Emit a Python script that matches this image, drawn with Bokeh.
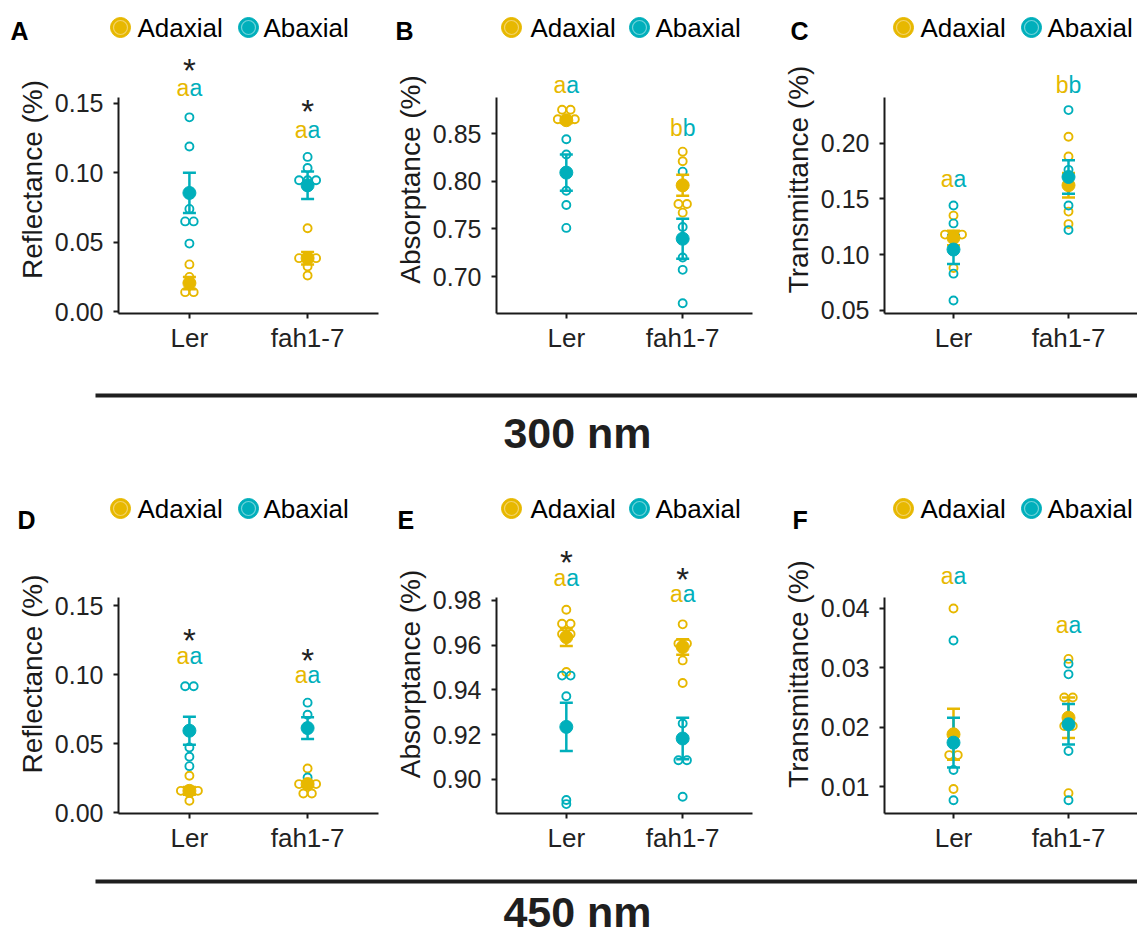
from bokeh.plotting import figure
from bokeh.layouts import column, row
from bokeh.models import Range1d, FixedTicker, NumeralTickFormatter
from bokeh.embed import file_html
from bokeh.resources import INLINE
from bokeh.core.properties import value

# ---------------------------------------------------------------- data
categories = ["Ler", "fah1-7"]
sides = ["Adaxial", "Abaxial"]

# (A) Reflectance, 300 nm
refl300_ad_Ler = [0.034, 0.025, 0.014, 0.014]
refl300_ad_fah = [0.060, 0.0385, 0.0385, 0.0385, 0.0325, 0.026]
refl300_ab_Ler = [0.140, 0.119, 0.074, 0.065, 0.065, 0.049]
refl300_ab_fah = [0.1115, 0.1035, 0.0946, 0.0946, 0.0946]
refl300_ad_mean = [0.0205, 0.0385]
refl300_ad_se = [0.0045, 0.0045]
refl300_ab_mean = [0.0855, 0.091]
refl300_ab_se = [0.0145, 0.0099]
refl300_letters = [("a", "a"), ("a", "a")]
refl300_letter_y = [0.1608, 0.1312]
refl300_star_y = [0.1789, 0.1495]
refl300_ticks = [0.00, 0.05, 0.10, 0.15]
refl300_limits = (-0.0014, 0.1543)

# (B) Absorptance, 300 nm
abs300_ad_Ler = [0.875, 0.875, 0.865, 0.865, 0.865]
abs300_ad_fah = [0.831, 0.821, 0.776, 0.776, 0.767]
abs300_ab_Ler = [0.844, 0.828, 0.790, 0.775, 0.751]
abs300_ab_fah = [0.810, 0.752, 0.720, 0.707, 0.672]
abs300_ad_mean = [0.864, 0.7957]
abs300_ad_se = [0.003, 0.011]
abs300_ab_mean = [0.809, 0.7396]
abs300_ab_se = [0.019, 0.021]
abs300_letters = [("a", "a"), ("b", "b")]
abs300_letter_y = [0.9008, 0.856]
abs300_star_y = [None, None]
abs300_ticks = [0.70, 0.75, 0.80, 0.85]
abs300_limits = (0.6612, 0.8878)

# (C) Transmittance, 300 nm
tra300_ad_Ler = [0.135, 0.118, 0.118, 0.118, 0.088]
tra300_ad_fah = [0.2056, 0.188, 0.1386, 0.1274]
tra300_ab_Ler = [0.144, 0.128, 0.083, 0.059]
tra300_ab_fah = [0.2295, 0.176, 0.144, 0.122]
tra300_ad_mean = [0.1150, 0.1622]
tra300_ad_se = [0.0065, 0.011]
tra300_ab_mean = [0.1046, 0.1696]
tra300_ab_se = [0.013, 0.015]
tra300_letters = [("a", "a"), ("b", "b")]
tra300_letter_y = [0.1681, 0.2522]
tra300_star_y = [None, None]
tra300_ticks = [0.05, 0.10, 0.15, 0.20]
tra300_limits = (0.0473, 0.2408)

# (D) Reflectance, 450 nm
refl450_ad_Ler = [0.0266, 0.0157, 0.0157, 0.0157, 0.0085]
refl450_ad_fah = [0.0319, 0.0206, 0.0206, 0.0206, 0.0138, 0.0138]
refl450_ab_Ler = [0.0915, 0.0915, 0.0472, 0.0404, 0.0336]
refl450_ab_fah = [0.0796, 0.0709, 0.0254]
refl450_ad_mean = [0.0157, 0.0206]
refl450_ad_se = [0.0028, 0.002]
refl450_ab_mean = [0.0593, 0.0612]
refl450_ab_se = [0.0101, 0.0079]
refl450_letters = [("a", "a"), ("a", "a")]
refl450_letter_y = [0.1137, 0.0997]
refl450_star_y = [0.1294, 0.1149]
refl450_ticks = [0.00, 0.05, 0.10, 0.15]
refl450_limits = (-0.0007, 0.1558)

# (E) Absorptance, 450 nm
abs450_ad_Ler = [0.9758, 0.9696, 0.9696, 0.9650, 0.9650, 0.948]
abs450_ad_fah = [0.9693, 0.9607, 0.9607, 0.9532, 0.9431]
abs450_ab_Ler = [0.9464, 0.9464, 0.9372, 0.8908, 0.889]
abs450_ab_fah = [0.925, 0.9086, 0.9086, 0.8923]
abs450_ad_mean = [0.9636, 0.9592]
abs450_ad_se = [0.004, 0.0035]
abs450_ab_mean = [0.9235, 0.9183]
abs450_ab_se = [0.0108, 0.0093]
abs450_letters = [("a", "a"), ("a", "a")]
abs450_letter_y = [0.9901, 0.983]
abs450_star_y = [1.0001, 0.9926]
abs450_ticks = [0.90, 0.92, 0.94, 0.96, 0.98]
abs450_limits = (0.8848, 0.9813)

# (F) Transmittance, 450 nm
tra450_ad_Ler = [0.040, 0.0153, 0.0153, 0.0096]
tra450_ad_fah = [0.0315, 0.025, 0.025, 0.0202, 0.0202, 0.0089]
tra450_ab_Ler = [0.0346, 0.0128, 0.0077]
tra450_ab_fah = [0.0307, 0.0289, 0.016, 0.0077]
tra450_ad_mean = [0.0188, 0.0216]
tra450_ad_se = [0.0043, 0.0034]
tra450_ab_mean = [0.0174, 0.0205]
tra450_ab_se = [0.0042, 0.0034]
tra450_letters = [("a", "a"), ("a", "a")]
tra450_letter_y = [0.0454, 0.0372]
tra450_star_y = [None, None]
tra450_ticks = [0.01, 0.02, 0.03, 0.04]
tra450_limits = (0.00547, 0.04184)

band_titles = ["300 nm", "450 nm"]

# ---------------------------------------------------------------- style
YEL = "#E7B800"
TEAL = "#00AFBB"
YEL_RING = "#F3D36A"
TEAL_RING = "#6FD3DA"
INK = "#1a1a1a"
FONT = "Liberation Sans"

TOTAL_W = 1137
COL_W = [380, 377, 380]
LEFT = [118, 116, 127]
RIGHT = [2, 5, 0]
ROWS = [
    dict(header_h=45, panel_h=315, bottom=47, axis_top_px=52,
         leg_y=27, letter_y=30, letter_x=[10, 395, 790]),
    dict(header_h=56, panel_h=322, bottom=43, axis_top_px=63,
         leg_y=30, letter_y=41, letter_x=[17, 397, 792]),
]
LEGEND_X = [(120, 137, 248, 263), (511, 530, 639, 655), (903, 920, 1031, 1047)]


def spec(prefix, label, letter):
    g = globals()
    return dict(
        label=label, letter=letter,
        ad=[g[prefix + "_ad_Ler"], g[prefix + "_ad_fah"]],
        ab=[g[prefix + "_ab_Ler"], g[prefix + "_ab_fah"]],
        ad_mean=g[prefix + "_ad_mean"], ad_se=g[prefix + "_ad_se"],
        ab_mean=g[prefix + "_ab_mean"], ab_se=g[prefix + "_ab_se"],
        letters=g[prefix + "_letters"], letter_y=g[prefix + "_letter_y"],
        star_y=g[prefix + "_star_y"], ticks=g[prefix + "_ticks"],
        limits=g[prefix + "_limits"])


PANELS = [
    [spec("refl300", "Reflectance (%)", "A"), spec("abs300", "Absorptance (%)", "B"),
     spec("tra300", "Transmittance (%)", "C")],
    [spec("refl450", "Reflectance (%)", "D"), spec("abs450", "Absorptance (%)", "E"),
     spec("tra450", "Transmittance (%)", "F")],
]


def dot_stack(vals, thresh):
    """dotplot-like centred stacking of nearly equal values"""
    n = len(vals)
    order = sorted(range(n), key=lambda i: vals[i])
    offs = [0.0] * n
    ys = [0.0] * n
    i = 0
    while i < n:
        j = i
        while j + 1 < n and vals[order[j + 1]] - vals[order[i]] <= thresh:
            j += 1
        grp = order[i:j + 1]
        c = (vals[order[i]] + vals[order[j]]) / 2
        m = len(grp)
        for k, idx in enumerate(grp):
            offs[idx] = k - (m - 1) / 2
            ys[idx] = c
        i = j + 1
    return offs, ys


def blank_fig(w, h):
    p = figure(width=w, height=h, x_range=Range1d(0, w), y_range=Range1d(h, 0),
               x_axis_type=None, y_axis_type=None, output_backend="svg",
               toolbar_location=None, min_border=0, min_border_left=0,
               min_border_right=0, min_border_top=0, min_border_bottom=0)
    p.grid.visible = False
    p.outline_line_color = None
    p.background_fill_color = "white"
    p.border_fill_color = "white"
    return p


def header_fig(ri):
    r = ROWS[ri]
    p = blank_fig(TOTAL_W, r["header_h"])
    for ci in range(3):
        p.text(x=[r["letter_x"][ci]], y=[r["letter_y"]], text=[PANELS[ri][ci]["letter"]],
               text_font=value(FONT), text_font_style="bold", text_font_size="25px",
               text_color="black", text_align="left", text_baseline="middle")
        d1, t1, d2, t2 = LEGEND_X[ci]
        ly = r["leg_y"]
        for dx, tx, lab, col, ring in [(d1, t1, sides[0], YEL, YEL_RING),
                                       (d2, t2, sides[1], TEAL, TEAL_RING)]:
            p.scatter(x=[dx], y=[ly], marker="circle", size=20, fill_color=col,
                      line_color=col)
            p.scatter(x=[dx], y=[ly], marker="circle", size=14, fill_color=None,
                      line_color=ring, line_width=1.2)
            p.text(x=[tx], y=[ly], text=[lab], text_font=value(FONT),
                   text_font_size="26px", text_color="black", text_align="left",
                   text_baseline="middle")
    return p


def panel_fig(ci, ri, s):
    r = ROWS[ri]
    w = COL_W[ci]
    h = r["panel_h"]
    frame_h = h - r["bottom"]
    frame_w = w - LEFT[ci] - RIGHT[ci]
    lo, hi = s["limits"]
    end = lo + (hi - lo) * frame_h / (frame_h - r["axis_top_px"])
    p = figure(width=w, height=h, x_range=Range1d(0.4, 2.6),
               y_range=Range1d(lo, end), output_backend="svg",
               toolbar_location=None, min_border_left=LEFT[ci],
               min_border_right=RIGHT[ci], min_border_top=0,
               min_border_bottom=r["bottom"])
    p.grid.visible = False
    p.outline_line_color = None
    p.background_fill_color = "white"
    p.border_fill_color = "white"

    dx_px = 2.2 / frame_w
    dy_px = (end - lo) / frame_h
    spacing = 8.5 * dx_px
    cap = 6.5 * dx_px
    xpos = [1, 2]

    # raw points (dotplot)
    for key, col in [("ad", YEL), ("ab", TEAL)]:
        xs, ys = [], []
        for k, vals in enumerate(s[key]):
            offs, yy = dot_stack(vals, 3 * dy_px)
            xs += [xpos[k] + o * spacing for o in offs]
            ys += yy
        p.scatter(x=xs, y=ys, marker="circle", size=8, fill_color=None,
                  line_color=col, line_width=1.9)
    # error bars (mean +/- se)
    for key, col in [("ad", YEL), ("ab", TEAL)]:
        m = s[key + "_mean"]
        se = s[key + "_se"]
        lows = [a - b for a, b in zip(m, se)]
        ups = [a + b for a, b in zip(m, se)]
        p.segment(x0=xpos, y0=lows, x1=xpos, y1=ups, line_color=col, line_width=2.5)
        p.segment(x0=[x - cap for x in xpos], y0=lows, x1=[x + cap for x in xpos],
                  y1=lows, line_color=col, line_width=2.5)
        p.segment(x0=[x - cap for x in xpos], y0=ups, x1=[x + cap for x in xpos],
                  y1=ups, line_color=col, line_width=2.5)
    # means
    for key, col in [("ad", YEL), ("ab", TEAL)]:
        p.scatter(x=xpos, y=s[key + "_mean"], marker="circle", size=13,
                  fill_color=col, line_color=col)

    # significance letters and stars
    for k in range(2):
        l1, l2 = s["letters"][k]
        y = s["letter_y"][k]
        p.text(x=[xpos[k]], y=[y], text=[l1], text_color=YEL, text_align="right",
               text_baseline="middle", text_font=value(FONT), text_font_size="23px")
        p.text(x=[xpos[k]], y=[y], text=[l2], text_color=TEAL, text_align="left",
               text_baseline="middle", text_font=value(FONT), text_font_size="23px")
        if s["star_y"][k] is not None:
            p.text(x=[xpos[k]], y=[s["star_y"][k]], text=["*"], text_color="#222222",
                   text_align="center", text_baseline="middle", y_offset=7,
                   text_font=value(FONT), text_font_size="33px")

    # axes
    xa = p.xaxis[0]
    xa.ticker = FixedTicker(ticks=xpos)
    xa.major_label_overrides = {xpos[i]: categories[i] for i in range(2)}
    ya = p.yaxis[0]
    ya.ticker = FixedTicker(ticks=s["ticks"])
    ya.formatter = NumeralTickFormatter(format="0.00")
    ya.bounds = (lo, hi)
    ya.axis_label = s["label"]
    for ax in (xa, ya):
        ax.axis_line_width = 2
        ax.axis_line_color = INK
        ax.major_tick_line_width = 2
        ax.major_tick_line_color = INK
        ax.major_tick_out = 5
        ax.major_tick_in = 0
        ax.minor_tick_line_color = None
        ax.major_label_text_font = FONT
        ax.major_label_text_color = "#222222"
    xa.major_label_text_font_size = "26px"
    ya.major_label_text_font_size = "25px"
    xa.major_label_standoff = 4
    ya.major_label_standoff = 10
    ya.axis_label_text_font = FONT
    ya.axis_label_text_font_size = "28px"
    ya.axis_label_text_font_style = "normal"
    ya.axis_label_text_color = "#1a1a1a"
    ya.axis_label_standoff = 4
    return p


def band_fig(h, line_y, text_y, label):
    p = blank_fig(TOTAL_W, h)
    p.segment(x0=[95], y0=[line_y], x1=[TOTAL_W], y1=[line_y], line_width=4,
              line_color="#1f1f1f")
    p.text(x=[577], y=[text_y], text=[label], text_font=value(FONT),
           text_font_style="bold", text_font_size="43px", text_color="#1f1f1f",
           text_align="center", text_baseline="middle")
    return p


panel_rows = []
for ri in range(2):
    panel_rows.append(row(*[panel_fig(ci, ri, PANELS[ri][ci]) for ci in range(3)],
                          spacing=0))

band1 = band_fig(118, 35, 72, band_titles[0])
band2 = band_fig(80, 25, 55, band_titles[1])

layout = column(header_fig(0), panel_rows[0], band1,
                header_fig(1), panel_rows[1], band2, spacing=0)

open("out.html", "w").write(file_html(layout, INLINE))
